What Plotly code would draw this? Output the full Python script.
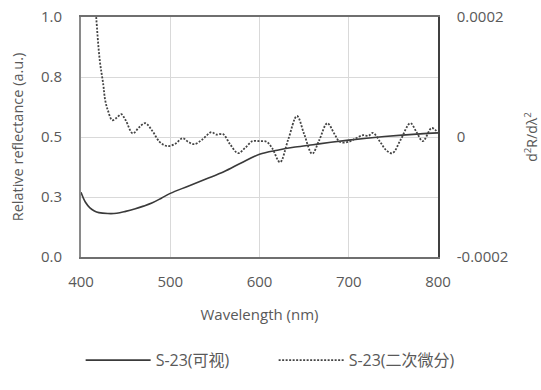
import plotly.graph_objects as go

# Reflectance spectrum (left axis)
wl_refl = [400, 405, 410, 415, 420, 430, 440, 450, 460, 470, 480, 490, 500,
           520, 540, 560, 580, 600, 620, 640, 660, 680, 700, 720, 740, 760, 780, 800]
refl = [0.270, 0.228, 0.205, 0.192, 0.185, 0.181, 0.182, 0.190, 0.200, 0.212, 0.226, 0.245, 0.265,
        0.295, 0.325, 0.355, 0.393, 0.428, 0.445, 0.458, 0.468, 0.478, 0.487, 0.495, 0.502, 0.508, 0.513, 0.517]

# Second derivative (right axis)
wl_d2 = [405, 410, 415, 417, 421, 425, 427, 430, 435, 440, 445, 450, 458, 465, 472, 480, 488, 496,
         505, 514, 520, 527, 536, 546, 552, 559, 567, 576, 584, 592, 600, 608, 614, 623, 632, 642,
         650, 659, 667, 676, 684, 690, 700, 708, 716, 722, 727, 736, 742, 749, 758, 769, 776, 783,
         793, 800]
d2 = [45e-5, 35e-5, 24e-5, 20e-5, 12.8e-5, 8.7e-5, 6.2e-5, 4.5e-5, 2.8e-5, 3.2e-5, 3.8e-5, 2.8e-5,
      0.6e-5, 1.6e-5, 2.3e-5, 1.0e-5, -0.8e-5, -1.5e-5, -1.2e-5, -0.2e-5, -0.8e-5, -1.2e-5,
      -0.4e-5, 0.8e-5, 0.4e-5, 0.5e-5, -1.2e-5, -2.7e-5, -1.8e-5, -0.7e-5, -0.7e-5, -0.8e-5,
      -1.8e-5, -4.2e-5, -0.5e-5, 3.5e-5, 0.5e-5, -2.8e-5, -0.5e-5, 2.3e-5, 0.5e-5, -0.8e-5,
      -0.8e-5, -0.2e-5, 0.3e-5, 0.2e-5, 0.7e-5, -1.0e-5, -2.2e-5, -2.7e-5, -0.5e-5, 2.3e-5,
      0.8e-5, -0.7e-5, 1.5e-5, 0.7e-5]

x_ticks = [400, 500, 600, 700, 800]
y_ticks = [0.0, 0.25, 0.5, 0.75, 1.0]
y_tick_text = ["0.0", "0.3", "0.5", "0.8", "1.0"]
y2_ticks = [-0.0002, 0, 0.0002]
y2_tick_text = ["-0.0002", "0", "0.0002"]

FONT = "Open Sans, Noto Sans CJK SC, sans-serif"
TXT = "#595959"

fig = go.Figure()
fig.add_trace(go.Scatter(
    x=wl_refl, y=refl, name="S-23(可视)", mode="lines",
    line=dict(color="#3a3a3a", width=1.6, shape="spline", smoothing=1.0),
))
fig.add_trace(go.Scatter(
    x=wl_d2, y=d2, name="S-23(二次微分)", mode="lines", yaxis="y2",
    line=dict(color="#444444", width=1.8, dash="2px,1.5px", shape="spline", smoothing=1.0),
))

fig.update_layout(
    width=541, height=390,
    margin=dict(l=81, r=103, t=17, b=133),
    paper_bgcolor="white", plot_bgcolor="white",
    font=dict(family=FONT, color=TXT, size=15),
    xaxis=dict(
        range=[400, 800], tickvals=x_ticks, ticks="", automargin=False,
        showgrid=True, gridcolor="#d9d9d9", gridwidth=1,
        showline=True, linecolor="#6f6f6f", linewidth=1.5, mirror=True,
        zeroline=False, tickfont=dict(size=15, color=TXT), ticklabelstandoff=10,
        title=dict(text="Wavelength (nm)", font=dict(size=15, color=TXT), standoff=20),
    ),
    yaxis=dict(
        range=[0, 1], tickvals=y_ticks, ticktext=y_tick_text, ticks="", automargin=False,
        showgrid=True, gridcolor="#d9d9d9", gridwidth=1,
        showline=True, linecolor="#8a8a8a", linewidth=2,
        zeroline=False, tickfont=dict(size=15, color=TXT), ticklabelstandoff=14,
        title=dict(text="Relative reflectance (a.u.)", font=dict(size=14.5, color=TXT), standoff=14),
    ),
    yaxis2=dict(
        range=[-0.0002, 0.0002], overlaying="y", side="right", automargin=False,
        tickvals=y2_ticks, ticktext=y2_tick_text, ticks="",
        showgrid=False, zeroline=False,
        showline=True, linecolor="#404040", linewidth=1.5,
        tickfont=dict(size=15, color=TXT), ticklabelstandoff=14,
        title=dict(text="d<sup>2</sup>R/dλ<sup>2</sup>", font=dict(size=14, color=TXT), standoff=32),
    ),
    legend=dict(
        orientation="h", x=-0.001, xanchor="left",
        y=-0.43, yanchor="middle",
        font=dict(size=16, color=TXT), itemwidth=65,
        entrywidth=113, entrywidthmode="pixels",
        bgcolor="rgba(0,0,0,0)",
    ),
    showlegend=True,
)

fig.write_html("out.html")
